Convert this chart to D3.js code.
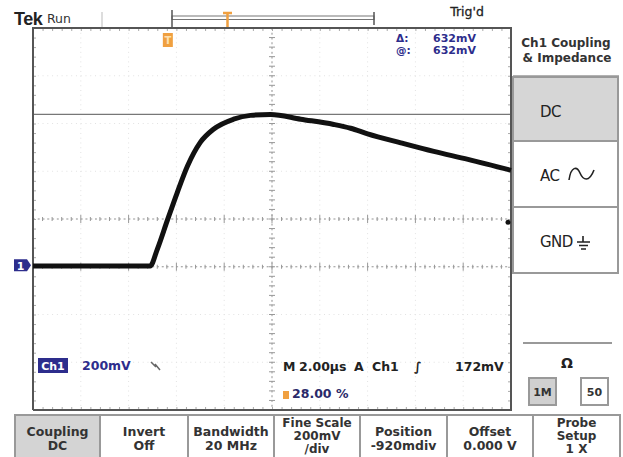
<!DOCTYPE html>
<html><head><meta charset="utf-8">
<script src="https://cdn.jsdelivr.net/npm/d3@7"></script>
<style>
html,body{margin:0;padding:0;background:#fff;}
svg{display:block;font-family:"DejaVu Sans",sans-serif;}
</style></head>
<body><svg id="c" width="623" height="457"></svg>
<script>
const timeUs   = [-5.6, -0.70, -0.40, 0.02, 0.44, 0.86, 1.40, 1.95, 2.79, 3.50, 4.34, 5.60, 6.98, 7.69, 8.40, 9.79, 11.17, 12.60, 14.40];
const ch1Volts = [-0.003, -0.003, 0.067, 0.188, 0.306, 0.415, 0.515, 0.570, 0.612, 0.628, 0.632, 0.612, 0.590, 0.574, 0.551, 0.513, 0.477, 0.444, 0.398];
const cursorVolts = 0.632;
const triggerLevelV = 0.172;
const triggerPct = 28;
const voltsPerDiv = 0.2;
const usPerDiv = 2;
const groundDiv = -0.97;
const softkeyLabels = [["Coupling","DC"],["Invert","Off"],["Bandwidth","20 MHz"],["Fine Scale","200mV","/div"],["Position","-920mdiv"],["Offset","0.000 V"],["Probe","Setup","1 X"]];
const sideLabels = ["DC","AC","GND"];
const cursorLabels = [["\u0394:","632mV"],["@:","632mV"]];

// ---- layout ----
const svg = d3.select("#c");
const P = {l:33, r:511, t:28, b:410};
const navy = "#2d2d8c", orange = "#f0a040", txt = "#333";
const xDiv = d3.scaleLinear().domain([0,10]).range([P.l,P.r]);
const yDiv = d3.scaleLinear().domain([-4,4]).range([P.b,P.t]);
const tLeft = -triggerPct/100*10*usPerDiv;
const x = d3.scaleLinear().domain([tLeft, tLeft+10*usPerDiv]).range([P.l,P.r]);
const y = d3.scaleLinear().domain([(-4-groundDiv)*voltsPerDiv,(4-groundDiv)*voltsPerDiv]).range([P.b,P.t]);

svg.append("rect").attr("width",623).attr("height",457).attr("fill","#fff");

// faint full graticule
const g = svg.append("g");
g.selectAll(".gv").data(d3.range(1,10)).join("line")
  .attr("x1",d=>xDiv(d)).attr("x2",d=>xDiv(d)).attr("y1",P.t).attr("y2",P.b)
  .attr("stroke","#e2e2e2").attr("stroke-dasharray","1,3.77");
g.selectAll(".gh").data(d3.range(-3,4)).join("line")
  .attr("y1",d=>yDiv(d)).attr("y2",d=>yDiv(d)).attr("x1",P.l).attr("x2",P.r)
  .attr("stroke","#e2e2e2").attr("stroke-dasharray","1,3.77");

// center crosshair and -1 div line (darker) with minor ticks
const minorX = d3.range(0,10.001,0.2), minorY = d3.range(-4,4.001,0.2);
[0,-1].forEach(dv=>{
  const yy = yDiv(dv);
  g.append("line").attr("x1",P.l).attr("x2",P.r).attr("y1",yy).attr("y2",yy)
    .attr("stroke","#999").attr("stroke-dasharray","2,2.77");
  g.selectAll(null).data(minorX).join("line")
    .attr("x1",d=>xDiv(d)).attr("x2",d=>xDiv(d))
    .attr("y1",d=>yy-(Math.abs(d-Math.round(d))<1e-6?4:2)).attr("y2",d=>yy+(Math.abs(d-Math.round(d))<1e-6?4:2))
    .attr("stroke","#999");
});
g.append("line").attr("x1",xDiv(5)).attr("x2",xDiv(5)).attr("y1",P.t).attr("y2",P.b)
  .attr("stroke","#999").attr("stroke-dasharray","2,2.77");
g.selectAll(null).data(minorY).join("line")
  .attr("y1",d=>yDiv(d)).attr("y2",d=>yDiv(d))
  .attr("x1",xDiv(5)-3).attr("x2",xDiv(5)+3).attr("stroke","#999");

// edge ruler ticks via axes
const tickFmt = ()=>"";
svg.append("g").attr("transform",`translate(0,${P.t})`).call(d3.axisBottom(xDiv).tickValues(minorX).tickSize(3).tickFormat(tickFmt))
  .call(s=>s.select(".domain").remove()).selectAll("line").attr("stroke","#aaa");
svg.append("g").attr("transform",`translate(0,${P.b})`).call(d3.axisTop(xDiv).tickValues(minorX).tickSize(3).tickFormat(tickFmt))
  .call(s=>s.select(".domain").remove()).selectAll("line").attr("stroke","#aaa");
svg.append("g").attr("transform",`translate(${P.l},0)`).call(d3.axisRight(yDiv).tickValues(minorY).tickSize(3).tickFormat(tickFmt))
  .call(s=>s.select(".domain").remove()).selectAll("line").attr("stroke","#aaa");
svg.append("g").attr("transform",`translate(${P.r},0)`).call(d3.axisLeft(yDiv).tickValues(minorY).tickSize(3).tickFormat(tickFmt))
  .call(s=>s.select(".domain").remove()).selectAll("line").attr("stroke","#aaa");

// cursor line
svg.append("line").attr("x1",P.l).attr("x2",P.r).attr("y1",y(cursorVolts)).attr("y2",y(cursorVolts))
  .attr("stroke","#777").attr("stroke-width",1.3);

// border
svg.append("path").attr("d",`M${P.l},${P.b}V${P.t}H${P.r}V${P.b}H${P.l}`)
  .attr("fill","none").attr("stroke","#555").attr("stroke-width",2);

// waveform
const pts = timeUs.map((t,i)=>[t,ch1Volts[i]]);
svg.append("path").datum(pts)
  .attr("d",d3.line().x(d=>x(d[0])).y(d=>y(d[1])).curve(d3.curveMonotoneX))
  .attr("fill","none").attr("stroke","#111").attr("stroke-width",5).attr("stroke-linejoin","round");

// trigger level dot on right edge
svg.append("circle").attr("cx",P.r-3).attr("cy",y(triggerLevelV)-2).attr("r",2.5).attr("fill","#111");

// ground marker
const gy = y(0);
svg.append("path").attr("d",`M14,${gy-6}H27L31,${gy}L27,${gy+6}H14Z`).attr("fill",navy);
svg.append("text").attr("x",20.5).attr("y",gy+4.5).attr("text-anchor","middle").attr("fill","#fff")
  .attr("font-size",11).attr("font-weight","bold").text("1");

// trigger position marker inside plot
const tx = x(0)+1;
svg.append("rect").attr("x",tx-5).attr("y",33).attr("width",10).attr("height",14).attr("fill",orange);
svg.append("text").attr("x",tx).attr("y",44).attr("text-anchor","middle").attr("fill","#fde0b0")
  .attr("font-size",10).attr("font-weight","bold").text("T");

// top header
svg.append("text").attr("x",14).attr("y",25).attr("font-family","Liberation Sans, sans-serif")
  .attr("font-weight","bold").attr("font-size",18).attr("letter-spacing",-0.5).attr("fill","#222").text("Tek");
svg.append("text").attr("x",47).attr("y",23).attr("font-size",12.5).attr("fill",txt).text("Run");
svg.append("line").attr("x1",102).attr("x2",102).attr("y1",12).attr("y2",27).attr("stroke","#bbb");
svg.append("rect").attr("x",172).attr("y",16).attr("width",202).attr("height",3.5).attr("fill","none").attr("stroke","#777");
svg.append("line").attr("x1",172).attr("x2",172).attr("y1",10).attr("y2",28).attr("stroke","#555").attr("stroke-width",1.5);
svg.append("line").attr("x1",374).attr("x2",374).attr("y1",12).attr("y2",25).attr("stroke","#555").attr("stroke-width",1.5);
svg.append("path").attr("d","M223,13H232M227.5,13V27").attr("stroke",orange).attr("stroke-width",2.5).attr("fill","none");
svg.append("text").attr("x",467).attr("y",16).attr("text-anchor","middle")
  .attr("font-size",12.5).attr("fill","#222").attr("stroke","#222").attr("stroke-width",0.3).text("Trig'd");

// cursor readouts
cursorLabels.forEach((c,i)=>{
  svg.append("text").attr("x",396).attr("y",42+i*12).attr("font-size",10.5).attr("font-weight","bold").attr("fill",navy).text(c[0]);
  svg.append("text").attr("x",433).attr("y",42+i*12).attr("font-size",11).attr("font-weight","bold").attr("fill",navy).text(c[1]);
});

// bottom readouts
svg.append("rect").attr("x",38).attr("y",358).attr("width",30).attr("height",15).attr("fill",navy);
svg.append("text").attr("x",53).attr("y",370).attr("text-anchor","middle").attr("font-size",11).attr("font-weight","bold").attr("fill","#fff").text("Ch1");
svg.append("text").attr("x",82).attr("y",370).attr("font-size",12.5).attr("font-weight","bold").attr("fill",navy).text("200mV");
svg.append("path").attr("d","M151,362L156,367M155,364L160,370").attr("stroke","#666").attr("stroke-width",1.5).attr("fill","none");
const status = [["M",283],["2.00\u00b5s",299],["A",354],["Ch1",372],["\u222b",414],["172mV",455]];
status.forEach(s=>svg.append("text").attr("x",s[1]).attr("y",371).attr("font-size",12.5).attr("font-weight","bold").attr("fill","#222").text(s[0]));
svg.append("rect").attr("x",283).attr("y",391).attr("width",6).attr("height",8).attr("fill",orange);
svg.append("text").attr("x",292).attr("y",398).attr("font-size",12.5).attr("font-weight","bold").attr("fill","#2a2a6a").text(triggerPct.toFixed(2)+" %");

// right side panel
svg.append("text").attr("x",566).attr("y",47).attr("text-anchor","middle").attr("font-size",12).attr("font-weight","bold").attr("fill",txt).text("Ch1 Coupling");
svg.append("text").attr("x",567).attr("y",62).attr("text-anchor","middle").attr("font-size",12).attr("font-weight","bold").attr("fill",txt).text("& Impedance");
svg.append("line").attr("x1",513).attr("x2",619).attr("y1",76).attr("y2",76).attr("stroke","#999").attr("stroke-width",1.5);
const sideTops = [77,141,207,273];
sideLabels.forEach((s,i)=>{
  svg.append("rect").attr("x",513).attr("y",sideTops[i]).attr("width",105).attr("height",sideTops[i+1]-sideTops[i])
    .attr("fill",i===0?"#d6d6d6":"#fff").attr("stroke","#999").attr("stroke-width",2);
  svg.append("text").attr("x",540).attr("y",sideTops[i]+40).attr("font-size",15).attr("fill","#222")
    .attr("letter-spacing",-0.5).text(s);
});
svg.append("path").attr("d","M569,180C571,166 577,166 580,173S589,183 594,170").attr("fill","none").attr("stroke","#222").attr("stroke-width",1.6);
svg.append("path").attr("d","M583,236V242M577,242H590M579,245.5H588M581,249H586").attr("fill","none").attr("stroke","#222").attr("stroke-width",1.6);
svg.append("line").attr("x1",523).attr("x2",612).attr("y1",343).attr("y2",343).attr("stroke","#777").attr("stroke-width",1.5);
svg.append("text").attr("x",567).attr("y",368).attr("text-anchor","middle").attr("font-size",14).attr("font-weight","bold").attr("fill","#222").text("\u03a9");
[["1M",529,"#d0d0d0"],["50",581,"#fff"]].forEach(b=>{
  svg.append("rect").attr("x",b[1]).attr("y",378).attr("width",27).attr("height",27).attr("fill",b[2]).attr("stroke","#999").attr("stroke-width",2);
  svg.append("text").attr("x",b[1]+13.5).attr("y",396).attr("text-anchor","middle").attr("font-size",11).attr("font-weight","bold").attr("fill",txt).text(b[0]);
});

// bottom softkeys
const keyEdges = [15,100,188,274,360,447,533,620];
softkeyLabels.forEach((lines,i)=>{
  const x0 = keyEdges[i], x1 = keyEdges[i+1];
  svg.append("rect").attr("x",x0).attr("y",415).attr("width",x1-x0).attr("height",50)
    .attr("fill",i===0?"#d4d4d4":"#fff").attr("stroke","#999").attr("stroke-width",2);
  const three = lines.length===3;
  const base = three ? [427,440,453] : [436,450];
  lines.forEach((t,j)=>svg.append("text").attr("x",(x0+x1)/2).attr("y",base[j]).attr("text-anchor","middle")
    .attr("font-size",three?12:12.5).attr("font-weight","bold").attr("fill",txt).text(t));
});
</script>
</body></html>
